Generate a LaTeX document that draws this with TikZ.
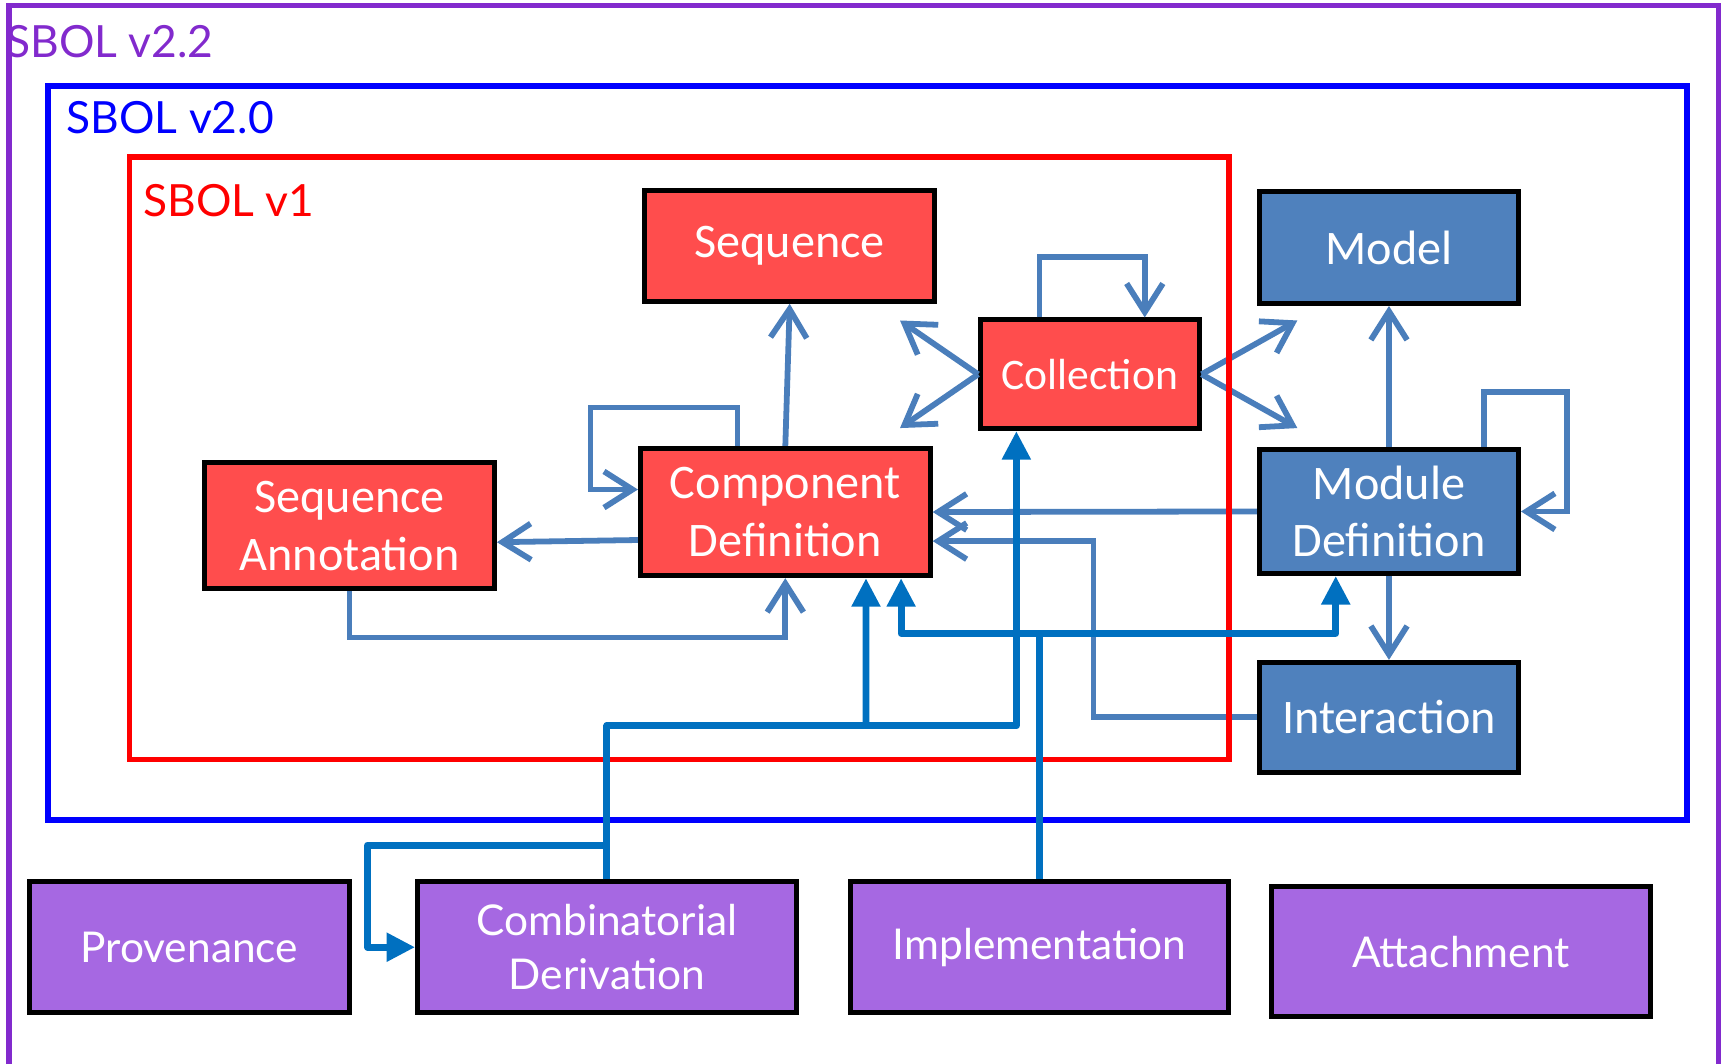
\documentclass[tikz,border=0pt]{standalone}
\usepackage{fontspec}
\setmainfont{Carlito}
\newfontfamily\gillfont{Lato}
\usepackage{tikz}
\usetikzlibrary{arrows.meta}
\definecolor{sbolred}{RGB}{255,77,77}
\definecolor{sbolblue}{RGB}{79,129,189}
\definecolor{sbolpurple}{RGB}{166,104,226}
\definecolor{framepurple}{RGB}{130,42,205}
\definecolor{litearrow}{RGB}{74,126,187}
\definecolor{darkarrow}{RGB}{0,112,192}
\tikzset{redbox/.style = {draw = black, line width = 1.3pt, fill = sbolred, text = white,
                          align = center, inner sep = 0, font = \fontsize{12.5}{15}\selectfont}}
\tikzset{bluebox/.style = {redbox, fill = sbolblue}}
\tikzset{purplebox/.style = {redbox, fill = sbolpurple, font = \gillfont\fontsize{11}{14}\selectfont}}
\tikzset{lite/.style = {draw = litearrow, line width = 1.5pt,
                        -{Straight Barb[length = 2.6mm, width = 3.3mm]}}}
\tikzset{dark/.style = {draw = darkarrow, line width = 1.8pt, line join = round,
                        -{Triangle[length = 2.6mm, width = 2.5mm]}}}
\tikzset{darkline/.style = {dark, -}}
\tikzset{verframe/.style = {line width = 1.5pt}}
\tikzset{framelabel/.style = {anchor = base west, inner sep = 0, font = \gillfont\fontsize{11.5}{14}\selectfont}}

\begin{document}
\begin{tikzpicture}[x = 0.1mm, y = -0.1mm]
    \useasboundingbox (0, 0) rectangle (1568, 969);
    \node [framelabel, text = framepurple] (v22) at (5, 52) {SBOL v2.2};
    \node [framelabel, text = blue] (v20) at (60, 122) {SBOL v2.0};
    \node [framelabel, text = red] (v1) at (130, 197) {SBOL v1};
    \node [redbox, minimum width = 26.4mm, minimum height = 10.1mm] (seq) at (719.5, 224) {Sequence};
    \node [redbox, minimum width = 19.9mm, minimum height = 9.9mm,
           font = \fontsize{11.3}{15}\selectfont] (coll) at (993, 341) {Collection};
    \node [redbox, minimum width = 26.4mm, minimum height = 11.6mm] (cd) at (715.5, 466.5) {Component\\Definition};
    \node [redbox, minimum width = 26.4mm, minimum height = 11.5mm] (sa) at (318.5, 479) {Sequence\\Annotation};
    \node [bluebox, minimum width = 23.6mm, minimum height = 10.2mm] (model) at (1265.5, 225.5) {Model};
    \node [bluebox, minimum width = 23.6mm, minimum height = 11.3mm] (md) at (1265.5, 466) {Module\\Definition};
    \node [bluebox, minimum width = 23.6mm, minimum height = 10mm] (inter) at (1265.5, 653.5) {Interaction};
    \node [purplebox, minimum width = 29.2mm, minimum height = 11.9mm] (prov) at (172.5, 863) {Provenance};
    \node [purplebox, minimum width = 34.5mm, minimum height = 11.9mm] (comb) at (553, 863) {Combinatorial\\Derivation};
    \node [purplebox, minimum width = 34.5mm, minimum height = 11.9mm] (impl) at (947, 863) {Implementation};
    \node [purplebox, minimum width = 34.5mm, minimum height = 11.9mm] (att) at (1331, 867) {Attachment};
    \coordinate (collnw) at (820, 292);
    \coordinate (collsw) at (820, 390);
    \coordinate (collne) at (1182, 292);
    \coordinate (collse) at (1182, 390);
    \draw [lite] (cd.north) -- (seq.south);
    \draw [lite] ([xshift = -4.35mm]cd.north) -- ++(0, -35) -- ++(-134, 0) |- ([yshift = 2.05mm]cd.west);
    \draw [lite] ([yshift = -2.55mm]cd.west) -- ([yshift = -1.5mm]sa.east);
    \draw [lite] (sa.south) -- ++(0, 42) -| (cd.south);
    \draw [lite] (coll.west) -- (collnw);
    \draw [lite] (coll.west) -- (collsw);
    \draw [lite] (coll.east) -- (collne);
    \draw [lite] (coll.east) -- (collse);
    \draw [lite] ([xshift = -4.6mm]coll.north) -- ++(0, -55) -| ([xshift = 5mm]coll.north);
    \draw [lite] (md.west) -- (cd.east);
    \draw [lite] (inter.west) -- ++(-149, 0) |- ([yshift = -2.65mm]cd.east);
    \draw [lite] (md.north) -- (model.south);
    \draw [lite] (md.south) -- (inter.north);
    \draw [lite] ([xshift = 8.65mm]md.north) -- ++(0, -50) -- ++(76, 0) |- (md.east);
    \draw [verframe, draw = framepurple] (8, 5) rectangle (1566, 990);
    \draw [verframe, draw = blue] (44, 78) rectangle (1537, 747);
    \draw [verframe, draw = red] (118, 143) rectangle (1120, 692);
    \coordinate (cdsplit) at (789, 662);
    \coordinate (combsplit) at (553, 770);
    \draw [dark] (comb.north) -- ++(0, -140) -| ([xshift = -6.7mm]coll.south);
    \draw [dark] (cdsplit) -- ([xshift = 7.35mm]cd.south);
    \draw [dark] (combsplit) -- ++(-218, 0) |- (comb.west);
    \draw [darkline] (impl.north) -- ++(0, -224) coordinate (implsplit);
    \draw [dark] (implsplit) -| ([xshift = 10.55mm]cd.south);
    \draw [dark] (implsplit) -| ([xshift = -4.85mm]md.south);
  \end{tikzpicture}
\end{document}
